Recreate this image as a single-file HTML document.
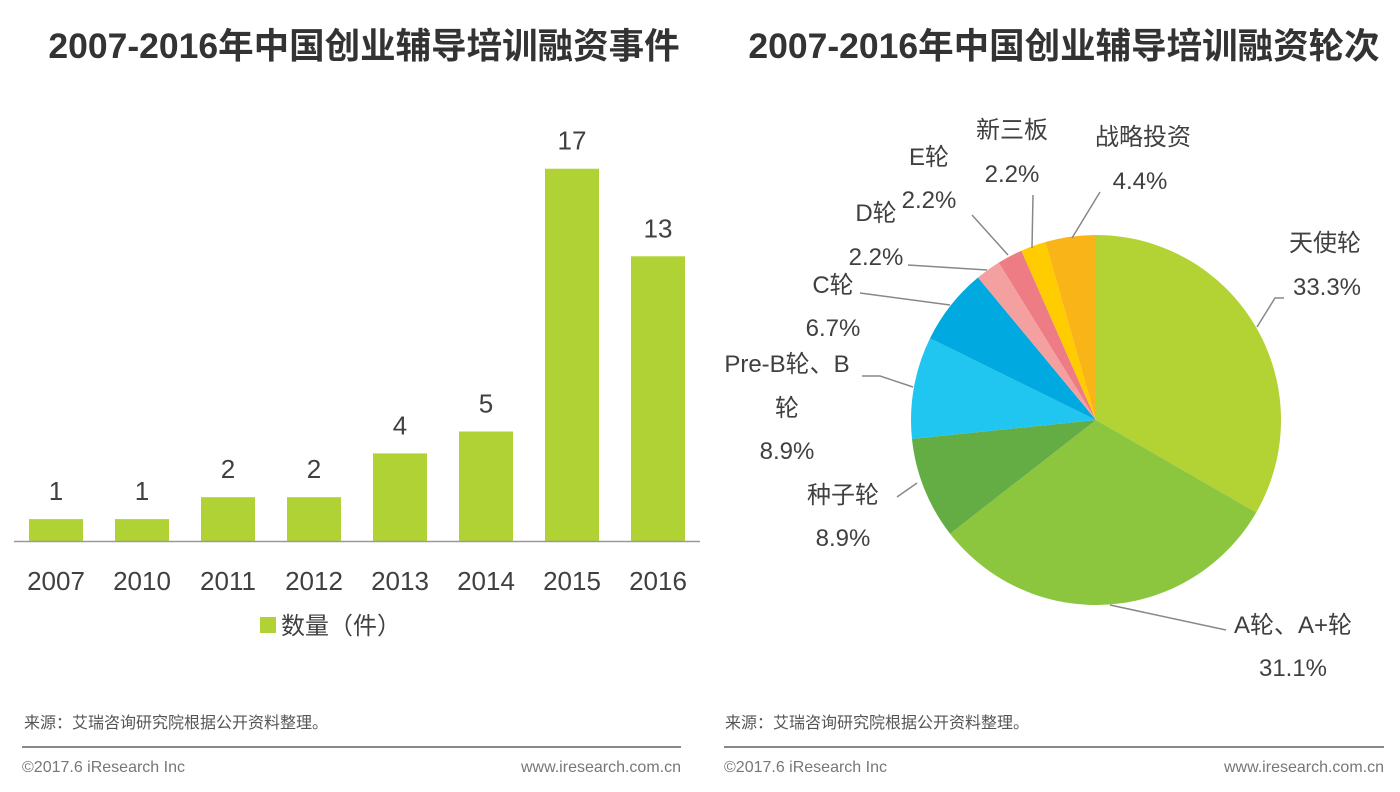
<!DOCTYPE html>
<html><head><meta charset="utf-8"><style>
body{margin:0;width:1400px;height:792px;background:#fff;overflow:hidden;font-family:"Liberation Sans","Noto Sans CJK SC",sans-serif}
svg{position:absolute;left:0;top:0}
</style></head><body>
<svg width="1400" height="792">
<text x="364" y="58" text-anchor="middle" font-size="35.5" font-weight="bold" fill="#333">2007-2016年中国创业辅导培训融资事件</text>
<text x="1064" y="58" text-anchor="middle" font-size="35.5" font-weight="bold" fill="#333">2007-2016年中国创业辅导培训融资轮次</text>
<g id="bars"></g>
<line x1="14" y1="541.5" x2="700" y2="541.5" stroke="#999" stroke-width="1.5"/>
<rect x="260" y="617" width="16" height="16" fill="#b1d234"/>
<text x="281" y="634" font-size="24" fill="#404040">数量（件）</text>
<g id="pie"></g>
<g id="labels" font-size="24" fill="#404040" text-anchor="middle"></g>
<g font-size="16" fill="#555">
<text x="24" y="728">来源：艾瑞咨询研究院根据公开资料整理。</text>
<text x="725" y="728">来源：艾瑞咨询研究院根据公开资料整理。</text>
<text x="22" y="772" fill="#777">©2017.6 iResearch Inc</text>
<text x="681" y="772" fill="#777" text-anchor="end">www.iresearch.com.cn</text>
<text x="724" y="772" fill="#777">©2017.6 iResearch Inc</text>
<text x="1384" y="772" fill="#777" text-anchor="end">www.iresearch.com.cn</text>
</g>
<line x1="22" y1="747" x2="681" y2="747" stroke="#888" stroke-width="2"/>
<line x1="724" y1="747" x2="1384" y2="747" stroke="#888" stroke-width="2"/>
</svg>
<script>
const years=['2007','2010','2011','2012','2013','2014','2015','2016'];
const counts=[1,1,2,2,4,5,17,13];
const pieNames=['天使轮','A轮、A+轮','种子轮','Pre-B轮、B轮','C轮','D轮','E轮','新三板','战略投资'];
const pieValues=[33.3,31.1,8.9,8.9,6.7,2.2,2.2,2.2,4.4];
const pieColors=['#b3d234','#8cc63f','#64ad45','#20c5f0','#00a9df','#f5a0a0','#ee7c84','#ffcc00','#f9b418'];
const NS='http://www.w3.org/2000/svg';
function mk(t,a,p){const e=document.createElementNS(NS,t);for(const k in a)e.setAttribute(k,a[k]);p.appendChild(e);return e;}
const base=541, unit=21.9;
const xC=i=>56+i*86, yV=v=>base-v*unit;
const bg=document.getElementById('bars');
counts.forEach((v,i)=>{
 const r=mk('rect',{x:xC(i)-27,y:yV(v),width:54,height:base-yV(v),fill:'#b1d234'},bg);
 
 
 const t=mk('text',{x:xC(i),y:yV(v)-19,'text-anchor':'middle','font-size':26,fill:'#404040'},bg);t.textContent=v;
 
 
 const l=mk('text',{x:xC(i),y:590,'text-anchor':'middle','font-size':26,fill:'#404040'},bg);l.textContent=years[i];
 
 
});
const cx=1096,cy=420,R=185,tot=pieValues.reduce((a,b)=>a+b,0);
const pg=document.getElementById('pie');
let a0=0;
pieValues.forEach((v,i)=>{
 const a1=a0+v/tot*2*Math.PI;
 const p=a=>[cx+R*Math.sin(a),cy-R*Math.cos(a)];
 const [x0,y0]=p(a0),[x1,y1]=p(a1);
 const s=mk('path',{d:`M${cx},${cy}L${x0},${y0}A${R},${R} 0 ${a1-a0>Math.PI?1:0} 1 ${x1},${y1}Z`,fill:pieColors[i]},pg);
 
 
 a0=a1;
});
const lg=document.getElementById('labels');
const lab=[
 [[[1257,327],[1275,298],[1284,298]],[['天使轮',1325,251],['33.3%',1327,295]]],
 [[[1110,605],[1226,630]],[['A轮、A+轮',1293,633],['31.1%',1293,676]]],
 [[[917,483],[897,497]],[['种子轮',843,503],['8.9%',843,546]]],
 [[[913,387],[880,376],[862,376]],[['Pre-B轮、B',787,372],['轮',787,416],['8.9%',787,459]]],
 [[[950,305],[860,293]],[['C轮',833,293],['6.7%',833,336]]],
 [[[987,270],[908,265]],[['D轮',876,221],['2.2%',876,265]]],
 [[[1008,255],[972,215]],[['E轮',929,165],['2.2%',929,208]]],
 [[[1032,248],[1033,195]],[['新三板',1012,138],['2.2%',1012,182]]],
 [[[1072,238],[1100,192]],[['战略投资',1143,145],['4.4%',1140,189]]]
];
lab.forEach((L,i)=>{
 const pl=mk('polyline',{points:L[0].map(q=>q.join(',')).join(' '),fill:'none',stroke:'#888','stroke-width':1.5},lg);
 
 
 L[1].forEach(([s,x,y])=>{const t=mk('text',{x:x,y:y},lg);t.textContent=s;
  
  });
});
</script>
</body></html>
